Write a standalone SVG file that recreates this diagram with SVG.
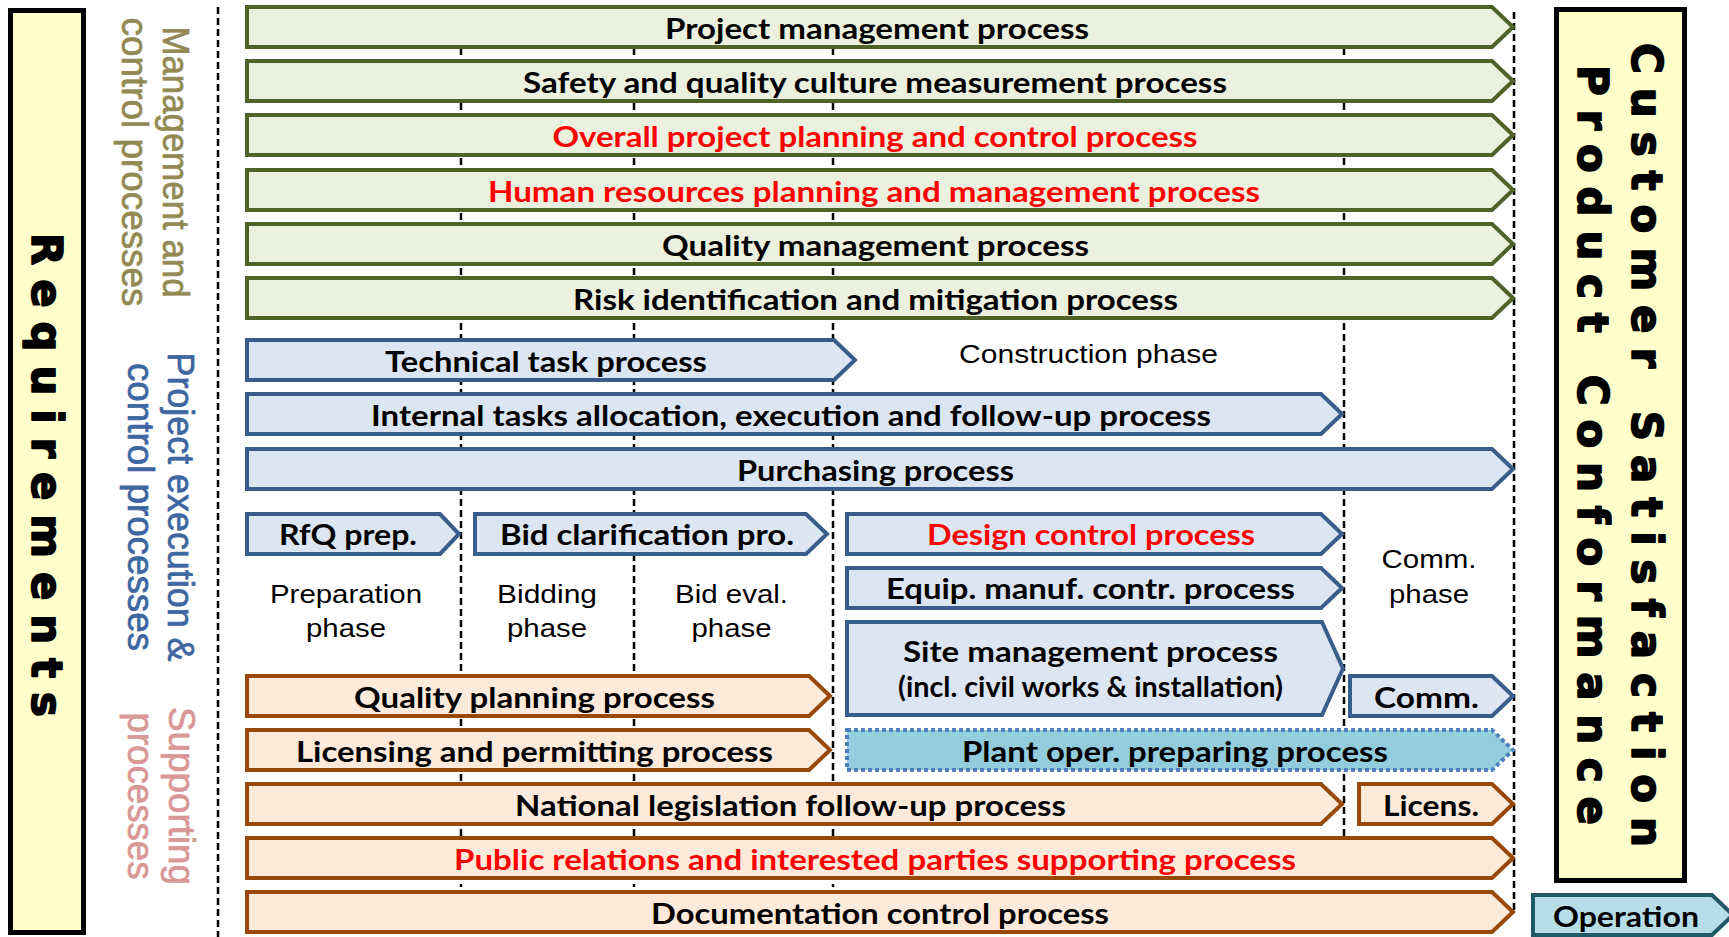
<svg xmlns="http://www.w3.org/2000/svg" width="1729" height="937" viewBox="0 0 1729 937">
  <style>
    .frame { fill: #FFFFCC; stroke: #000; stroke-width: 5; }
    .big { font-family: "DejaVu Sans", "Liberation Sans", sans-serif; font-weight: bold; font-size: 42px; fill: #000; stroke: #000; stroke-width: 1.6; stroke-linejoin: round; text-anchor: middle; }
    .side { font-family: "Liberation Sans", Arial, sans-serif; font-size: 36.5px; stroke-width: 0.7; text-anchor: middle; }
    .g { fill: #EBF1DE; stroke: #4F6228; stroke-width: 4; }
    .b { fill: #DCE6F2; stroke: #385D8A; stroke-width: 4; }
    .o { fill: #FDEADA; stroke: #984807; stroke-width: 4; }
    .p { fill: #93CDDD; stroke: #4F81BD; stroke-width: 4; stroke-dasharray: 4 3; }
    .op { fill: #B7DEE8; stroke: #215968; stroke-width: 4; }
    .t { font-family: Lato, "Liberation Sans", sans-serif; font-weight: bold; font-size: 29px; fill: #000; text-anchor: middle; }
    .red { fill: #FF0000; }
    .ph { font-family: "Liberation Sans", Arial, sans-serif; font-size: 26.5px; fill: #000; text-anchor: middle; }
    .dash { stroke: #000; stroke-width: 2.5; stroke-dasharray: 7 4; fill: none; }
  </style>

  <!-- phase separators -->
  <g id="phase-lines">
    <line class="dash" x1="218" y1="7" x2="218" y2="937"/>
    <line class="dash" x1="461" y1="48" x2="461" y2="887"/>
    <line class="dash" x1="634" y1="48" x2="634" y2="887"/>
    <line class="dash" x1="833" y1="48" x2="833" y2="887"/>
    <line class="dash" x1="1344" y1="48" x2="1344" y2="884"/>
    <line class="dash" x1="1514" y1="12" x2="1514" y2="913"/>
  </g>

  <!-- side frames -->
  <g id="requirements">
    <rect class="frame" x="10.5" y="10.5" width="73" height="922"/>
    <text class="big" transform="translate(32,475) rotate(90)" textLength="484" lengthAdjust="spacing">Requirements</text>
  </g>
  <g id="customer-satisfaction">
    <rect class="frame" x="1556.5" y="9.5" width="128" height="871"/>
    <text class="big" transform="translate(1632,445) rotate(90)" textLength="804" lengthAdjust="spacing">Customer Satisfaction</text>
    <text class="big" transform="translate(1578,445) rotate(90)" textLength="760" lengthAdjust="spacing">Product Conformance</text>
  </g>

  <!-- process group titles -->
  <g id="label-management" fill="#938953" stroke="#938953">
    <text class="side" transform="translate(163,162) rotate(90)" textLength="271" lengthAdjust="spacingAndGlyphs">Management and</text>
    <text class="side" transform="translate(122,162) rotate(90)" textLength="289" lengthAdjust="spacingAndGlyphs">control processes</text>
  </g>
  <g id="label-execution" fill="#3E66A0" stroke="#3E66A0">
    <text class="side" transform="translate(168,507) rotate(90)" textLength="309" lengthAdjust="spacingAndGlyphs">Project execution &amp;</text>
    <text class="side" transform="translate(128,507) rotate(90)" textLength="288" lengthAdjust="spacingAndGlyphs">control processes</text>
  </g>
  <g id="label-supporting" fill="#D99795" stroke="#D99795">
    <text class="side" transform="translate(168.5,796) rotate(90)" textLength="178" lengthAdjust="spacingAndGlyphs">Supporting</text>
    <text class="side" transform="translate(128,796) rotate(90)" textLength="167" lengthAdjust="spacingAndGlyphs">processes</text>
  </g>

  <!-- phase names -->
  <g id="phase-names">
    <text class="ph" x="346" y="603" textLength="152" lengthAdjust="spacingAndGlyphs">Preparation</text>
    <text class="ph" x="346" y="637" textLength="80" lengthAdjust="spacingAndGlyphs">phase</text>
    <text class="ph" x="547" y="603" textLength="100" lengthAdjust="spacingAndGlyphs">Bidding</text>
    <text class="ph" x="547" y="637" textLength="80" lengthAdjust="spacingAndGlyphs">phase</text>
    <text class="ph" x="731.5" y="603" textLength="113" lengthAdjust="spacingAndGlyphs">Bid eval.</text>
    <text class="ph" x="731.5" y="637" textLength="80" lengthAdjust="spacingAndGlyphs">phase</text>
    <text class="ph" x="1088.5" y="363" textLength="259" lengthAdjust="spacingAndGlyphs">Construction phase</text>
    <text class="ph" x="1429" y="568" textLength="95" lengthAdjust="spacingAndGlyphs">Comm.</text>
    <text class="ph" x="1429" y="603" textLength="80" lengthAdjust="spacingAndGlyphs">phase</text>
  </g>

  <!-- management and control processes -->
  <g id="project-management">
    <polygon class="g" points="247,7 1492,7 1513,27 1492,47 247,47"/>
    <text class="t" x="877" y="39" textLength="424" lengthAdjust="spacingAndGlyphs">Project management process</text>
  </g>
  <g id="safety-culture">
    <polygon class="g" points="247,61 1492,61 1513,81 1492,101 247,101"/>
    <text class="t" x="875" y="93" textLength="704" lengthAdjust="spacingAndGlyphs">Safety and quality culture measurement process</text>
  </g>
  <g id="overall-planning">
    <polygon class="g" points="247,115 1492,115 1513,135 1492,155 247,155"/>
    <text class="t red" x="875" y="147" textLength="645" lengthAdjust="spacingAndGlyphs">Overall project planning and control process</text>
  </g>
  <g id="human-resources">
    <polygon class="g" points="247,170 1492,170 1513,190 1492,210 247,210"/>
    <text class="t red" x="874" y="202" textLength="772" lengthAdjust="spacingAndGlyphs">Human resources planning and management process</text>
  </g>
  <g id="quality-management">
    <polygon class="g" points="247,224 1492,224 1513,244 1492,264 247,264"/>
    <text class="t" x="875.5" y="256" textLength="427" lengthAdjust="spacingAndGlyphs">Quality management process</text>
  </g>
  <g id="risk">
    <polygon class="g" points="247,278 1492,278 1513,298 1492,318 247,318"/>
    <text class="t" x="875.5" y="310" textLength="605" lengthAdjust="spacingAndGlyphs">Risk identification and mitigation process</text>
  </g>

  <!-- project execution and control processes -->
  <g id="technical-task">
    <polygon class="b" points="247,340 834,340 855,360 834,380 247,380"/>
    <text class="t" x="546" y="372" textLength="322" lengthAdjust="spacingAndGlyphs">Technical task process</text>
  </g>
  <g id="internal-tasks">
    <polygon class="b" points="247,394 1321,394 1342,414 1321,434 247,434"/>
    <text class="t" x="791" y="426" textLength="840" lengthAdjust="spacingAndGlyphs">Internal tasks allocation, execution and follow-up process</text>
  </g>
  <g id="purchasing">
    <polygon class="b" points="247,449 1492,449 1513,469 1492,489 247,489"/>
    <text class="t" x="875.5" y="481" textLength="277" lengthAdjust="spacingAndGlyphs">Purchasing process</text>
  </g>
  <g id="rfq-prep">
    <polygon class="b" points="247,514 440,514 459,534 440,554 247,554"/>
    <text class="t" x="348" y="545" textLength="138" lengthAdjust="spacingAndGlyphs">RfQ prep.</text>
  </g>
  <g id="bid-clarification">
    <polygon class="b" points="475,514 806,514 827,534 806,554 475,554"/>
    <text class="t" x="647" y="545" textLength="294" lengthAdjust="spacingAndGlyphs">Bid clarification pro.</text>
  </g>
  <g id="design-control">
    <polygon class="b" points="847,514 1321,514 1342,534 1321,554 847,554"/>
    <text class="t red" x="1091" y="545" textLength="328" lengthAdjust="spacingAndGlyphs">Design control process</text>
  </g>
  <g id="equip-manuf">
    <polygon class="b" points="847,568 1321,568 1342,588 1321,608 847,608"/>
    <text class="t" x="1090.5" y="599" textLength="409" lengthAdjust="spacingAndGlyphs">Equip. manuf. contr. process</text>
  </g>
  <g id="site-management">
    <polygon class="b" points="847,622 1322,622 1343,668.5 1322,715 847,715"/>
    <text class="t" x="1090.5" y="662" textLength="375" lengthAdjust="spacingAndGlyphs">Site management process</text>
    <text class="t" x="1090.5" y="697" font-size="25" textLength="385" lengthAdjust="spacingAndGlyphs">(incl. civil works &amp; installation)</text>
  </g>
  <g id="comm">
    <polygon class="b" points="1350,676 1492,676 1513,696 1492,716 1350,716"/>
    <text class="t" x="1426.5" y="707.5" textLength="105" lengthAdjust="spacingAndGlyphs">Comm.</text>
  </g>
  <g id="plant-oper">
    <polygon class="p" points="847,730 1492,730 1513,750 1492,770 847,770"/>
    <text class="t" x="1175" y="761.5" textLength="426" lengthAdjust="spacingAndGlyphs">Plant oper. preparing process</text>
  </g>

  <!-- supporting processes -->
  <g id="quality-planning">
    <polygon class="o" points="247,676 809,676 830,696 809,716 247,716"/>
    <text class="t" x="534.5" y="707.5" textLength="361" lengthAdjust="spacingAndGlyphs">Quality planning process</text>
  </g>
  <g id="licensing">
    <polygon class="o" points="247,730 809,730 830,750 809,770 247,770"/>
    <text class="t" x="534.5" y="761.5" textLength="477" lengthAdjust="spacingAndGlyphs">Licensing and permitting process</text>
  </g>
  <g id="national-legislation">
    <polygon class="o" points="247,784 1321,784 1342,804 1321,824 247,824"/>
    <text class="t" x="790.5" y="815.5" textLength="551" lengthAdjust="spacingAndGlyphs">National legislation follow-up process</text>
  </g>
  <g id="licens">
    <polygon class="o" points="1359,784 1492,784 1513,804 1492,824 1359,824"/>
    <text class="t" x="1431" y="815.5" textLength="96" lengthAdjust="spacingAndGlyphs">Licens.</text>
  </g>
  <g id="public-relations">
    <polygon class="o" points="247,838 1492,838 1513,858 1492,878 247,878"/>
    <text class="t red" x="875" y="869.5" textLength="842" lengthAdjust="spacingAndGlyphs">Public relations and interested parties supporting process</text>
  </g>
  <g id="documentation">
    <polygon class="o" points="247,892 1492,892 1513,912 1492,932 247,932"/>
    <text class="t" x="880" y="923.5" textLength="458" lengthAdjust="spacingAndGlyphs">Documentation control process</text>
  </g>

  <!-- operation -->
  <g id="operation">
    <polygon class="op" points="1533,895 1712,895 1733,915 1712,935 1533,935"/>
    <text class="t" x="1626" y="927" textLength="146" lengthAdjust="spacingAndGlyphs">Operation</text>
  </g>
</svg>
